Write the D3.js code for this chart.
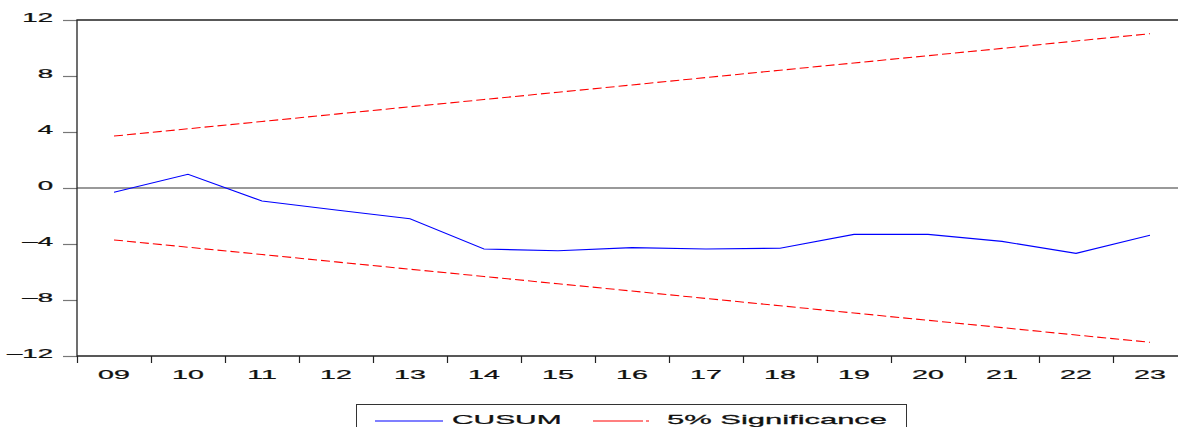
<!DOCTYPE html>
<html>
<head>
<meta charset="utf-8">
<script src="https://cdn.jsdelivr.net/npm/d3@7"></script>
<style>
  body { margin: 0; background: #fff; }
  text { font-family: "Liberation Sans", Arial, sans-serif; fill: #111; stroke: #111; stroke-width: 0.25; }
</style>
</head>
<body>
<svg id="chart" width="1178" height="427"></svg>
<script>
// Years on the x axis (two-digit labels)
var years = ["09", "10", "11", "12", "13", "14", "15", "16", "17", "18", "19", "20", "21", "22", "23"];
// CUSUM statistic
var cusum = [-0.31, 0.98, -0.93, -1.57, -2.2, -4.36, -4.48, -4.26, -4.36, -4.3, -3.31, -3.31, -3.81, -4.67, -3.38];
// Upper 5% significance bound (lower is the mirror)
var upper = [3.71, 4.23, 4.75, 5.28, 5.80, 6.32, 6.84, 7.36, 7.89, 8.41, 8.93, 9.45, 9.97, 10.50, 11.02];
var lower = upper.map(function(v) { return -v; });
var yTicks = [-12, -8, -4, 0, 4, 8, 12];

var svg = d3.select("#chart");

// Plot area
var plotLeft = 77, plotRight = 1187, plotTop = 20, plotBottom = 356;

var x = d3.scaleBand().domain(years).range([plotLeft, plotRight]).padding(0);
var xi = d3.scaleLinear().domain([0, years.length]).range([plotLeft, plotRight]);
var y = d3.scaleLinear().domain([-12, 12]).range([plotBottom, plotTop]);

function cx(d, i) { return x(years[i]) + x.bandwidth() / 2; }

// Zero line
svg.append("line")
  .attr("x1", plotLeft).attr("x2", plotRight)
  .attr("y1", y(0)).attr("y2", y(0))
  .attr("stroke", "#777").attr("stroke-width", 1.3);

// Y axis
var yAxis = svg.append("g")
  .attr("transform", "translate(" + plotLeft + ",0)")
  .call(d3.axisLeft(y).tickValues(yTicks).tickSize(14).tickFormat(function(d) { return d; }));
yAxis.select(".domain").remove();
yAxis.selectAll(".tick line").attr("stroke", "#777").attr("stroke-width", 1.2);
yAxis.selectAll(".tick text")
  .attr("x", null).attr("dy", null)
  .attr("text-anchor", "end")
  .attr("font-size", 12)
  .attr("transform", "translate(-24,1) scale(2.3,1)")
  .text(function(d) { return d < 0 ? "\u2013" + Math.abs(d) : d; });

// X tick marks at band boundaries
var xTicks = svg.append("g")
  .attr("transform", "translate(0," + plotBottom + ")")
  .call(d3.axisBottom(xi).tickValues(d3.range(0, years.length)).tickSize(7).tickFormat(""));
xTicks.select(".domain").remove();
xTicks.selectAll(".tick line").attr("stroke", "#222").attr("stroke-width", 1.2);

// X labels
var xLab = svg.append("g")
  .attr("transform", "translate(0," + plotBottom + ")")
  .call(d3.axisBottom(x).tickSize(0));
xLab.select(".domain").remove();
xLab.selectAll(".tick text")
  .attr("y", null).attr("dy", null)
  .attr("font-size", 13)
  .attr("transform", "translate(0,23) scale(2.2,1)");

// Frame
svg.append("path")
  .attr("d", "M" + plotRight + "," + plotTop + "H" + plotLeft + "V" + plotBottom + "H" + plotRight)
  .attr("fill", "none").attr("stroke", "#222").attr("stroke-width", 1.3);

// Lines
var line = d3.line()
  .x(function(d, i) { return cx(d, i); })
  .y(function(d) { return y(d); });

[upper, lower].forEach(function(s) {
  svg.append("path")
    .datum(s)
    .attr("fill", "none")
    .attr("stroke", "#ff0000")
    .attr("stroke-width", 1.1)
    .attr("stroke-dasharray", "9,4")
    .attr("d", line);
});

svg.append("path")
  .datum(cusum)
  .attr("fill", "none")
  .attr("stroke", "#0000ff")
  .attr("stroke-width", 1.1)
  .attr("d", line);

// Legend
var lg = svg.append("g");
lg.append("rect")
  .attr("x", 356.5).attr("y", 404.5)
  .attr("width", 550).attr("height", 40)
  .attr("fill", "#fff").attr("stroke", "#333").attr("stroke-width", 1);
lg.append("line")
  .attr("x1", 375).attr("x2", 443).attr("y1", 421).attr("y2", 421)
  .attr("stroke", "#0000ff").attr("stroke-width", 1.1);
lg.append("text")
  .attr("font-size", 13)
  .attr("transform", "translate(452,424) scale(2.3,1)")
  .text("CUSUM");
lg.append("line")
  .attr("x1", 593).attr("x2", 650).attr("y1", 421).attr("y2", 421)
  .attr("stroke", "#ff0000").attr("stroke-width", 1.1)
  .attr("stroke-dasharray", "50,3,3,100");
lg.append("text")
  .attr("font-size", 13)
  .attr("transform", "translate(667,424) scale(2.38,1)")
  .text("5% Significance");
</script>
</body>
</html>
